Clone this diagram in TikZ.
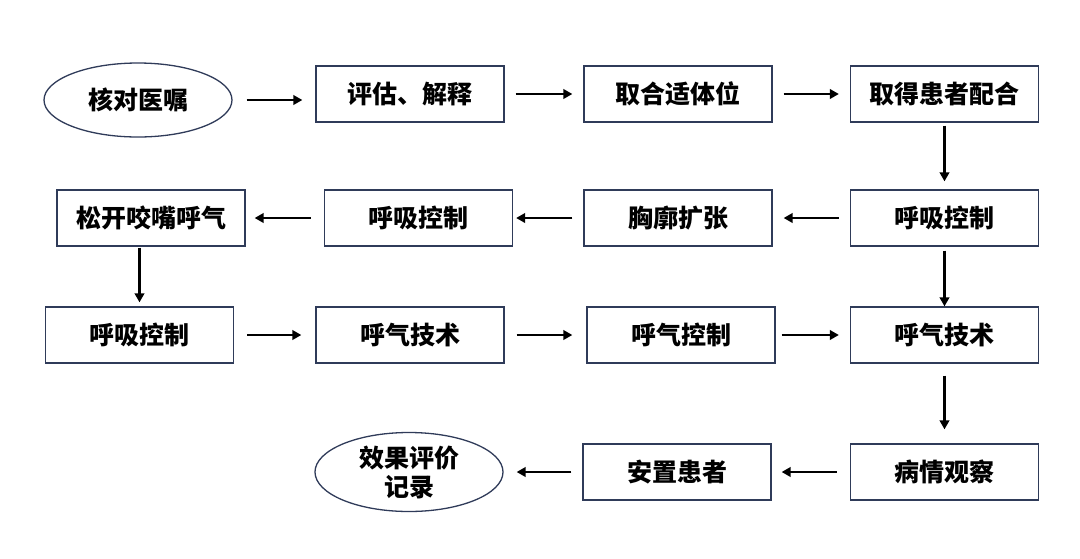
\documentclass[tikz,border=0pt]{standalone}
\usepackage{fontspec}
\newfontfamily\cjk{Noto Sans CJK SC}
\usetikzlibrary{arrows.meta,shapes.geometric}
\definecolor{boxline}{HTML}{2F3B59}

\begin{document}
\begin{tikzpicture}[x=1pt,y=-1pt,
    box/.style={draw=boxline, line width=1.3pt, minimum width=188pt, minimum height=56pt,
        font=\cjk\bfseries\fontsize{25}{29}\selectfont},
    oval/.style={ellipse, draw=boxline, line width=1.3pt, minimum width=188pt, minimum height=74pt,
        inner sep=0pt, align=center, font=\cjk\bfseries\fontsize{25}{29}\selectfont},
    arr/.style={line width=2.8pt, -{Triangle[length=9pt,width=9.5pt]}, shorten <=11pt, shorten >=11pt}]
    \useasboundingbox (0,0) rectangle (1080,558);

    % first row
    \node[oval] (e1) at (138,100) {核对医嘱};
    \node[box] (b1) at (410,94) {评估、解释};
    \node[box] (b2) at (678,94) {取合适体位};
    \node[box] (b3) at (944.5,94) {取得患者配合};

    % second row
    \node[box] (c4) at (944.5,218) {呼吸控制};
    \node[box] (c3) at (678,218) {胸廓扩张};
    \node[box] (c2) at (418.5,218) {呼吸控制};
    \node[box] (c1) at (151,218) {松开咬嘴呼气};

    % third row
    \node[box] (d1) at (139.5,335) {呼吸控制};
    \node[box] (d2) at (410,335) {呼气技术};
    \node[box] (d3) at (681,335) {呼气控制};
    \node[box] (d4) at (944.5,335) {呼气技术};

    % last row
    \node[box] (f4) at (944.5,472) {病情观察};
    \node[box] (f3) at (677,472) {安置患者};
    \node[oval, minimum height=79pt] (e2) at (409,472) {效果评价\\记录};

    \draw[arr, shorten <=14pt, shorten >=13pt] (e1.east) -- (e1.east -| b1.west);
    \draw[arr] (b1) -- (b2);
    \draw[arr] (b2) -- (b3);
    \draw[arr, shorten <=3pt, shorten >=8pt] (b3) -- (c4);
    \draw[arr] (c4) -- (c3);
    \draw[arr, shorten >=3pt] (c3) -- (c2);
    \draw[arr, shorten <=13pt, shorten >=9pt] (c2) -- (c1);
    \draw[arr, shorten <=1pt, shorten >=4pt] (c1.south -| d1) -- (d1.north);
    \draw[arr, shorten <=13pt, shorten >=14pt] (d1) -- (d2);
    \draw[arr, shorten <=12pt, shorten >=14pt] (d2) -- (d3);
    \draw[arr, shorten <=6pt] (d3) -- (d4);
    \draw[arr, shorten <=4pt, shorten >=0pt] (c4) -- (d4);
    \draw[arr, shorten <=12pt, shorten >=14pt] (d4) -- (f4);
    \draw[arr, shorten <=13pt, shorten >=10pt] (f4) -- (f3);
    \draw[arr, shorten >=13pt] (f3) -- (e2);
\end{tikzpicture}
\end{document}
